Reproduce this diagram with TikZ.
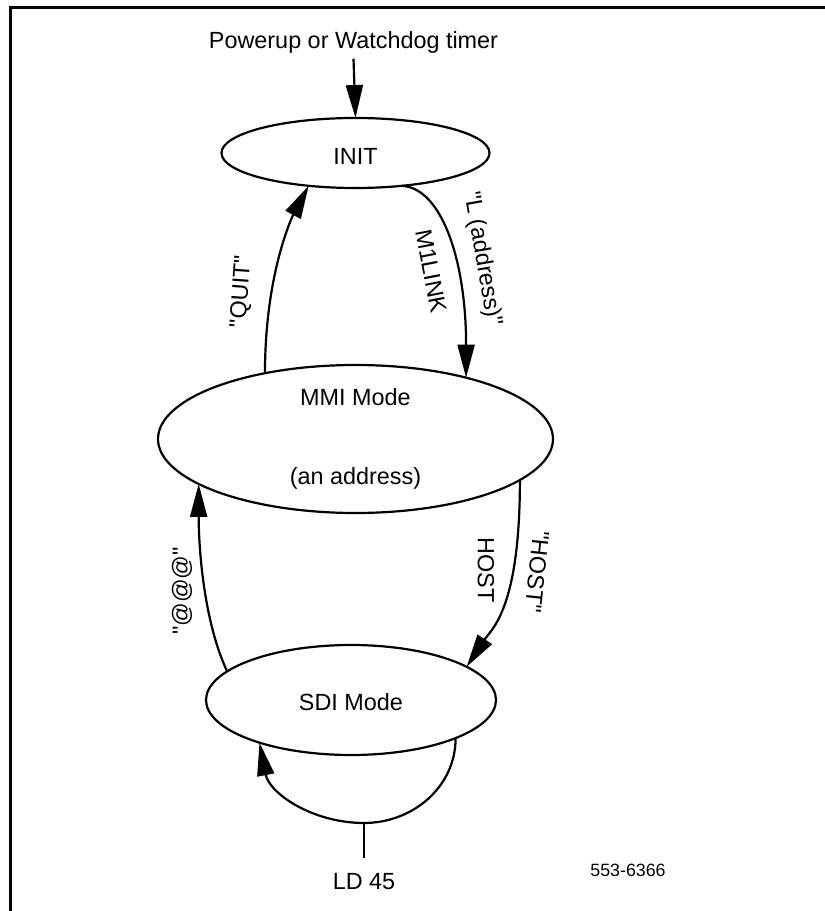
\documentclass[tikz,border=0pt]{standalone}
\usepackage{fontspec}
\setmainfont{Liberation Sans}
\usetikzlibrary{arrows.meta, shapes.geometric, positioning, calc}

\begin{document}
\begin{tikzpicture}[x=1pt, y=1pt, >={Triangle[length=33pt,width=17pt]}, line width=2.2pt,
    state/.style={draw, ellipse, inner sep=0pt, outer sep=0pt, font=\fontsize{23.4}{23.4}\selectfont},
    lbl/.style={font=\fontsize{23.4}{28}\selectfont, inner sep=0pt}]
  \useasboundingbox (0,0) rectangle (825,911);
  \draw[line width=3pt] (10.5,0) |- (825,903.5);

  \node[lbl, anchor=base, inner sep=4.5pt] (power) at (353.5,862.7) {Powerup or Watchdog timer};
  \node[state, minimum width=268pt, minimum height=70pt, text height=24pt, text depth=0pt] (init) at (355.5,758) {INIT};
  \node[state, minimum width=395pt, minimum height=148pt, align=center] (mmi) at (355.5,472) {MMI Mode\\[56pt](an address)};
  \node[state, minimum width=290pt, minimum height=110pt, text height=22pt, text depth=0pt] (sdi) at (351,211) {SDI Mode};

  % transition labels
  \node[lbl, rotate=86] (quit) at (242,619.5) {\textquotedbl QUIT\textquotedbl};
  \node[lbl, rotate=-79] (m1link) at (431,640) {M1LINK};
  \node[lbl, rotate=-80] (laddr) at (482,652) {\textquotedbl L (address)\textquotedbl};
  \node[lbl, rotate=90] (ats) at (182,320) {\textquotedbl @@@\textquotedbl};
  \node[lbl, rotate=-90] (host) at (486,341) {HOST};
  \node[lbl, rotate=-96] (hostq) at (537,339) {\textquotedbl HOST\textquotedbl};

  \coordinate (ldjoin) at (364,88);
  \coordinate (ldfoot) at (364,53);
  \node[lbl, anchor=base] (ld) at (364,21) {LD 45};
  \node[anchor=base, font=\fontsize{17.8}{20}\selectfont] (fig) at (628,34.3) {553-6366};

  \draw[->] (power.south) -- (init.north);
  \draw[->] (mmi.144) .. controls +(0,102) and +(-15,-28) .. (init.215);
  \draw[->] (init.325) .. controls +(40,-3) and +(0,116) .. (mmi.29);
  \draw[->] (sdi.167) .. controls +(-23,49) and +(0,-66) .. (mmi.196);
  \draw[->] (mmi.346) .. controls +(0,-129) and +(25,38) .. (sdi.16);
  \draw[->] (sdi.340) to[out=-90, in=0] (ldjoin) to[out=180, in=-79] (sdi.205);
  \draw (ldjoin) -- (ldfoot);
\end{tikzpicture}
\end{document}
